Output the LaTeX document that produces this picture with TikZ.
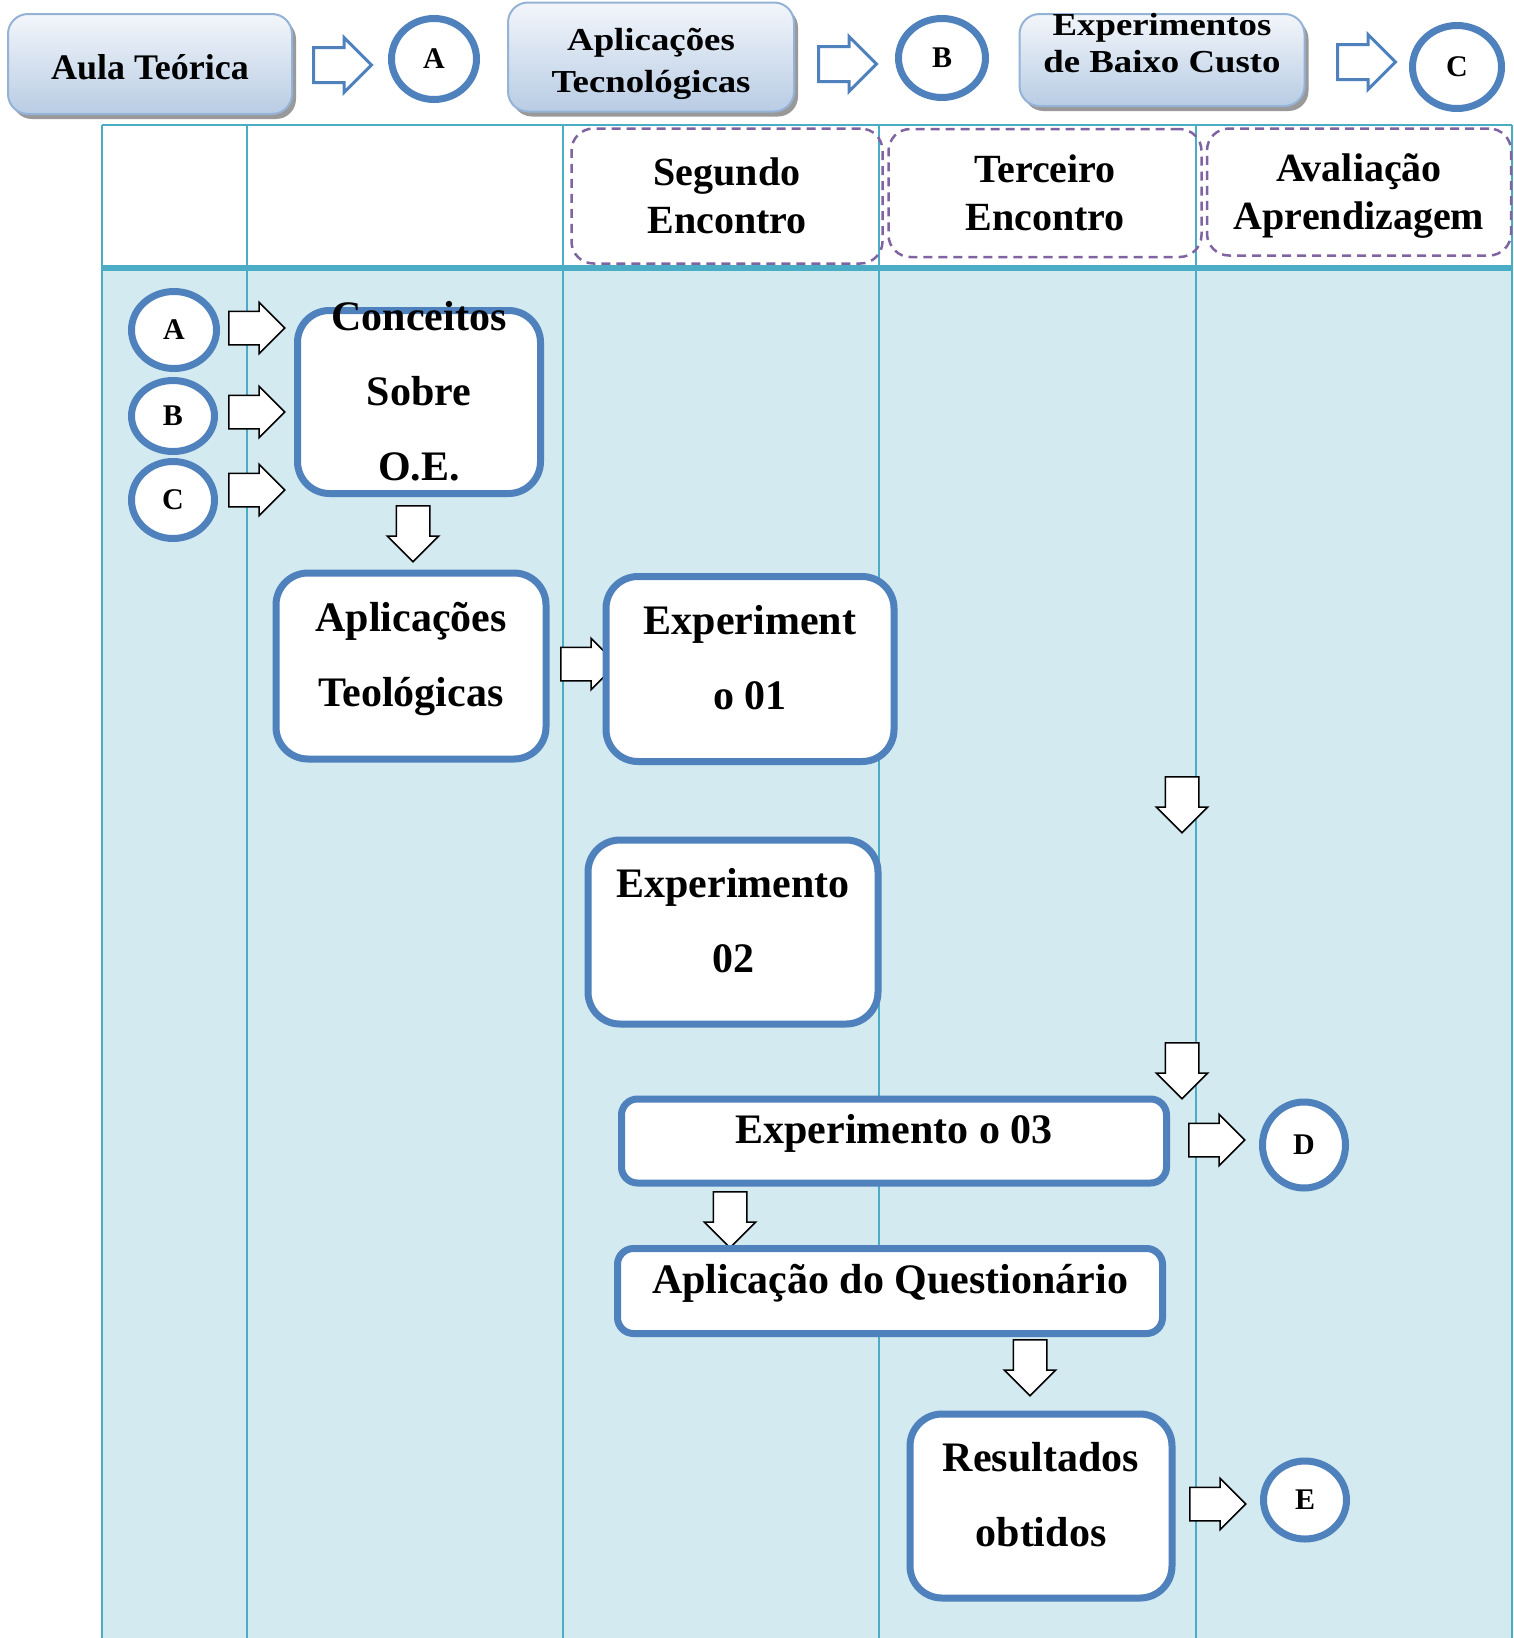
\documentclass[tikz,border=0pt]{standalone}
\usepackage{fontspec}
\setmainfont{Liberation Serif}
\newfontfamily\widefont[FakeStretch=1.15]{Liberation Serif}
\usetikzlibrary{shapes.geometric,shapes.arrows,shadows}
\definecolor{laneline}{RGB}{75,172,198}
\definecolor{lanefill}{RGB}{210,234,240}
\definecolor{boxblue}{RGB}{79,129,189}
\definecolor{dashpurple}{RGB}{128,100,162}
\definecolor{topedge}{RGB}{149,179,215}
\definecolor{toptop}{RGB}{243,246,251}
\definecolor{topbot}{RGB}{184,204,228}
\begin{document}
\begin{tikzpicture}[x=1pt,y=-1pt,
		topbox/.style={draw=topedge,line width=2pt,rounded corners=20pt,top color=toptop,bottom color=topbot,drop shadow={shadow xshift=4pt,shadow yshift=-5pt,fill=black,opacity=.4},align=center,inner sep=0pt,text depth=0pt,font=\fontsize{36}{41}\selectfont\bfseries},
		lanehead/.style={draw=dashpurple,dash pattern=on 9pt off 6pt,line width=2.5pt,rounded corners=22pt,align=center,inner sep=0pt,text depth=0pt,font=\fontsize{40}{48}\selectfont\bfseries},
		tallbox/.style={draw=boxblue,line width=7pt,fill=white,rounded corners=32pt,align=center,inner sep=0pt,text height=81pt,text depth=0pt,font=\fontsize{42}{75}\selectfont\bfseries},
		flatbox/.style={tallbox,rounded corners=16pt,text height=24pt,text depth=20pt},
		letter/.style={draw=boxblue,line width=7pt,fill=white,ellipse,minimum width=83pt,minimum height=78pt,inner sep=0pt,font=\fontsize{30}{30}\selectfont\bfseries},
		blockarrow/.style={draw,line width=1.5pt,fill=white,single arrow,single arrow head extend=9pt,minimum width=50pt,minimum height=56pt,inner xsep=0pt,inner ysep=16pt,anchor=tail},
		toparrow/.style={blockarrow,draw=boxblue,line width=3pt,single arrow head extend=10pt,minimum width=52pt,minimum height=58pt},
		downarrow/.style={blockarrow,rotate=-90}]
		\useasboundingbox (0,0) rectangle (1514,1638);
		\fill[lanefill] (102,268) rectangle (1512,1638);
		\foreach \x in {102,247,563,879,1196,1512}
			\draw[laneline,line width=2pt] (\x,125) -- (\x,1638);
		\draw[laneline,line width=2pt] (102,125) -- (1512,125);
		\draw[laneline,line width=5.5pt] (102,268) -- (1512,268);

		\node[lanehead,minimum width=311pt,minimum height=135pt] (seg) at (727,196) {Segundo\\Encontro};
		\node[lanehead,minimum width=313pt,minimum height=128pt] (ter) at (1045,193) {Terceiro\\Encontro};
		\node[lanehead,minimum width=304pt,minimum height=127pt] (ava) at (1359,192) {Avaliação\\Aprendizagem};

		\node[topbox,minimum width=284pt,minimum height=100pt,text height=30pt] (aula) at (150,64) {Aula Teórica};
		\node[toparrow] (ta1) at (312,65) {};
		\node[letter,minimum width=85pt,minimum height=81pt] (tA) at (434,59) {A};
		\node[topbox,minimum width=286pt,minimum height=109pt,text height=71pt,font=\widefont\fontsize{32}{42}\selectfont\bfseries] (aplic) at (651,57) {Aplicações\\Tecnológicas};
		\node[toparrow] (ta2) at (817,64) {};
		\node[letter,minimum width=87pt,minimum height=79pt] (tB) at (942,58) {B};
		\node[topbox,minimum width=285pt,minimum height=92pt,text height=24pt,font=\widefont\fontsize{32}{37}\selectfont\bfseries] (expb) at (1162,60) {Experimentos\\de Baixo Custo};
		\node[toparrow] (ta3) at (1336,62) {};
		\node[letter,minimum width=89pt,minimum height=83pt] (tC) at (1457,67) {C};

		\node[blockarrow] (ra) at (228,328) {};
		\node[blockarrow] (rb) at (228,412) {};
		\node[blockarrow] (rc) at (228,490) {};
		\node[downarrow] (d1) at (413,505) {};
		\node[blockarrow] (r12) at (560,664) {};
		\node[downarrow] (d2) at (1182,776) {};
		\node[downarrow] (d3) at (1182,1042) {};
		\node[blockarrow] (rd) at (1188,1140) {};
		\node[downarrow] (d4) at (730,1191) {};
		\node[downarrow] (d5) at (1030,1339) {};
		\node[blockarrow] (re) at (1189,1504) {};

		\node[letter,minimum width=85pt,minimum height=77pt] (A) at (174,330) {A};
		\node[letter,minimum width=83pt,minimum height=71pt] (B) at (173,416) {B};
		\node[letter,minimum width=83pt,minimum height=77pt] (C) at (173,500) {C};
		\node[tallbox,minimum width=243pt,minimum height=183pt,text height=156pt] (con) at (419,402) {Conceitos\\Sobre\\O.E.};
		\node[tallbox,minimum width=270pt,minimum height=186pt] (aplt) at (411,666) {Aplicações\\Teológicas};
		\node[tallbox,minimum width=288pt,minimum height=185pt] (ex1) at (750,669) {Experiment\\o 01};
		\node[tallbox,minimum width=290pt,minimum height=184pt] (ex2) at (733,932) {Experimento\\02};
		\node[flatbox,minimum width=545pt,minimum height=84pt] (ex3) at (894,1141) {Experimento o 03};
		\node[letter,minimum width=83pt,minimum height=86pt] (D) at (1304,1145) {D};
		\node[flatbox,minimum width=545pt,minimum height=85pt] (que) at (890,1291) {Aplicação do Questionário};
		\node[tallbox,minimum width=262pt,minimum height=184pt] (res) at (1041,1506) {Resultados\\obtidos};
		\node[letter,minimum width=83pt,minimum height=78pt] (E) at (1305,1500) {E};
\end{tikzpicture}
\end{document}
